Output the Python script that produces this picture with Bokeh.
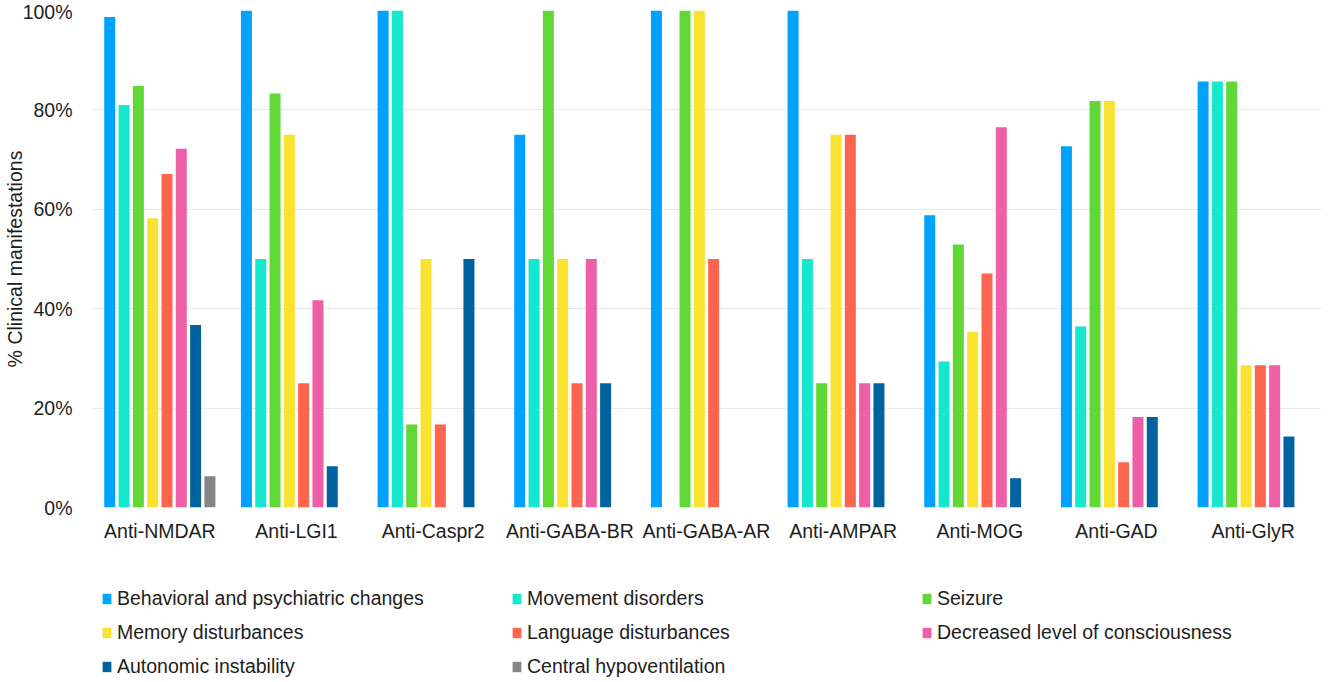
from bokeh.plotting import figure
from bokeh.layouts import column
from bokeh.models import (ColumnDataSource, FactorRange, Range1d, Legend, LegendItem,
                          PrintfTickFormatter, FixedTicker)
from bokeh.transform import dodge
from bokeh.embed import file_html
from bokeh.resources import INLINE

categories = ["Anti-NMDAR", "Anti-LGI1", "Anti-Caspr2", "Anti-GABA-BR", "Anti-GABA-AR",
              "Anti-AMPAR", "Anti-MOG", "Anti-GAD", "Anti-GlyR"]

series_names = ["Behavioral and psychiatric changes", "Movement disorders", "Seizure",
                "Memory disturbances", "Language disturbances", "Decreased level of consciousness",
                "Autonomic instability", "Central hypoventilation"]

behavioral = [98.7, 100, 100, 75, 100, 100, 58.8, 72.7, 85.7]
movement = [81.0, 50, 100, 50, 0, 50, 29.4, 36.4, 85.7]
seizure = [84.8, 83.3, 16.7, 100, 100, 25, 52.9, 81.8, 85.7]
memory = [58.2, 75, 50, 50, 100, 75, 35.3, 81.8, 28.6]
language = [67.1, 25, 16.7, 25, 50, 75, 47.1, 9.1, 28.6]
consciousness = [72.2, 41.7, 0, 50, 0, 25, 76.5, 18.2, 28.6]
autonomic = [36.7, 8.3, 50, 25, 0, 25, 5.9, 18.2, 14.3]
hypoventilation = [6.3, 0, 0, 0, 0, 0, 0, 0, 0]

series_values = [behavioral, movement, seizure, memory, language, consciousness,
                 autonomic, hypoventilation]
colors = ["#00A2FF", "#16E7CF", "#61D836", "#FAE232", "#FF644E", "#EF5FA7",
          "#00629E", "#858585"]

y_ticks = [0, 20, 40, 60, 80, 100]

FONT = "Liberation Sans"
TXT = "#1e1e1e"
FS = "19.5px"
W = 1321

data = {"cat": categories}
for i, vals in enumerate(series_values):
    data["s%d" % i] = vals
source = ColumnDataSource(data)

x_range = FactorRange(factors=categories)
p = figure(x_range=x_range, y_range=Range1d(0, 100),
           width=W, height=560, output_backend="svg", toolbar_location=None,
           min_border_left=84, min_border_right=0, min_border_top=10, min_border_bottom=53)
p.outline_line_color = None

slot = 0.1047
bar_w = 0.0805
for i, name in enumerate(series_names):
    p.vbar(x=dodge("cat", (i - 3.5) * slot, range=x_range), top="s%d" % i,
           width=bar_w, source=source, fill_color=colors[i], line_color=None)

p.xgrid.grid_line_color = None
p.ygrid.grid_line_color = "#e9e9e9"
p.ygrid.grid_line_width = 1

p.yaxis.ticker = FixedTicker(ticks=y_ticks)
p.yaxis.formatter = PrintfTickFormatter(format="%d%%")
p.yaxis.axis_label = "% Clinical manifestations"
p.yaxis.axis_label_text_font = FONT
p.yaxis.axis_label_text_font_size = FS
p.yaxis.axis_label_text_font_style = "normal"
p.yaxis.axis_label_text_color = TXT
p.yaxis.axis_label_standoff = -6
p.yaxis.major_label_standoff = 19

for ax in (p.xaxis, p.yaxis):
    ax.axis_line_color = None
    ax.major_tick_line_color = None
    ax.minor_tick_line_color = None
    ax.major_tick_out = 0
    ax.major_tick_in = 0
    ax.minor_tick_out = 0
    ax.minor_tick_in = 0
    ax.major_label_text_font = FONT
    ax.major_label_text_font_size = FS
    ax.major_label_text_color = TXT

p.xaxis.major_label_standoff = 12

# legend panel: same bars, drawn out of its visible range, only used for the legend
lg = figure(x_range=x_range, y_range=Range1d(200, 300), width=W, height=118,
            output_backend="svg", toolbar_location=None, x_axis_location=None,
            y_axis_location=None, min_border=0)
lg.outline_line_color = None
lg.xgrid.grid_line_color = None
lg.ygrid.grid_line_color = None
lg_renderers = []
for i, name in enumerate(series_names):
    lg_renderers.append(lg.vbar(x=dodge("cat", (i - 3.5) * slot, range=x_range), top="s%d" % i,
                                width=bar_w, source=source, fill_color=colors[i], line_color=None))

legend = Legend(items=[LegendItem(label=n, renderers=[r]) for n, r in zip(series_names, lg_renderers)],
                location=(10, 0), orientation="horizontal", ncols=3,
                glyph_width=11, glyph_height=13, label_standoff=5, label_width=383,
                label_height=20, spacing=11, padding=0, margin=0,
                border_line_color=None, background_fill_alpha=0,
                label_text_font=FONT, label_text_font_size=FS, label_text_color=TXT)
lg.add_layout(legend)

layout = column(p, lg, spacing=0)
open("out.html", "w").write(file_html(layout, INLINE))
